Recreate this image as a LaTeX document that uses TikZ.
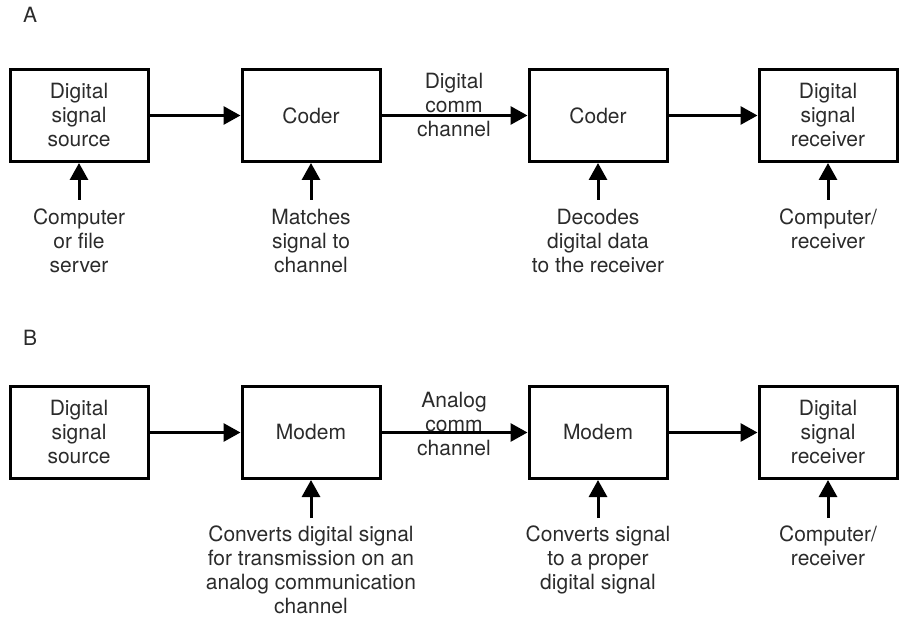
\documentclass[tikz,border=0pt]{standalone}
\usepackage{fontspec}
\setmainfont{TeX Gyre Heros}
\usetikzlibrary{arrows.meta}
\definecolor{txt}{HTML}{2B2B2B}
\newcommand\mylabfont{\fontsize{21}{24}\selectfont}
\begin{document}
\begin{tikzpicture}[x=1pt,y=-1pt,
  blk/.style={draw=black, line width=3pt, minimum width=138pt, minimum height=92pt,
    inner sep=0pt, align=center, font=\mylabfont, text=txt},
  lbl/.style={inner sep=0pt, align=center, font=\mylabfont, text=txt, anchor=north},
  arr/.style={line width=3pt, -{Triangle[length=17pt,width=18pt]}},
]
\useasboundingbox (0,0) rectangle (902,617);

% ---------- A ----------
\node[inner sep=0pt, anchor=base west, font=\mylabfont, text=txt] (tA) at (23,23) {A};

\node[blk] (a1) at (79,115.5) {Digital\\signal\\source};
\node[blk] (a2) at (311,115.5) {Coder};
\node[blk] (a3) at (598,115.5) {Coder};
\node[blk] (a4) at (828,115.5) {Digital\\signal\\receiver};

\draw[arr] (a1) -- (a2);
\draw[arr] (a2) -- (a3);
\draw[arr] (a3) -- (a4);

\node[lbl] (ca) at (454,73) {Digital\\comm\\channel};

\coordinate (pa1) at (79,200);
\coordinate (pa2) at (311,200);
\coordinate (pa3) at (598,200);
\coordinate (pa4) at (828,200);
\draw[arr] (pa1) -- (a1.south);
\draw[arr] (pa2) -- (a2.south);
\draw[arr] (pa3) -- (a3.south);
\draw[arr] (pa4) -- (a4.south);

\node[lbl] (la1) at (79,209) {Computer\\or file\\server};
\node[lbl] (la2) at (311,209) {Matches\\signal to\\channel};
\node[lbl] (la3) at (598,209) {Decodes\\digital data\\to the receiver};
\node[lbl] (la4) at (828,209) {Computer/\\receiver};

% ---------- B ----------
\node[inner sep=0pt, anchor=base west, font=\mylabfont, text=txt] (tB) at (23,346) {B};

\node[blk] (b1) at (79,432.5) {Digital\\signal\\source};
\node[blk] (b2) at (311,432.5) {Modem};
\node[blk] (b3) at (598,432.5) {Modem};
\node[blk] (b4) at (828,432.5) {Digital\\signal\\receiver};

\draw[arr] (b1) -- (b2);
\draw[arr] (b2) -- (b3);
\draw[arr] (b3) -- (b4);

\node[lbl] (cb) at (454,392) {Analog\\comm\\channel};

\coordinate (pb2) at (311,518);
\coordinate (pb3) at (598,518);
\coordinate (pb4) at (828,518);
\draw[arr] (pb2) -- (b2.south);
\draw[arr] (pb3) -- (b3.south);
\draw[arr] (pb4) -- (b4.south);

\node[lbl] (lb2) at (311,526) {Converts digital signal\\for transmission on an\\analog communication\\channel};
\node[lbl] (lb3) at (598,526) {Converts signal\\to a proper\\digital signal};
\node[lbl] (lb4) at (828,526) {Computer/\\receiver};
\end{tikzpicture}
\end{document}
